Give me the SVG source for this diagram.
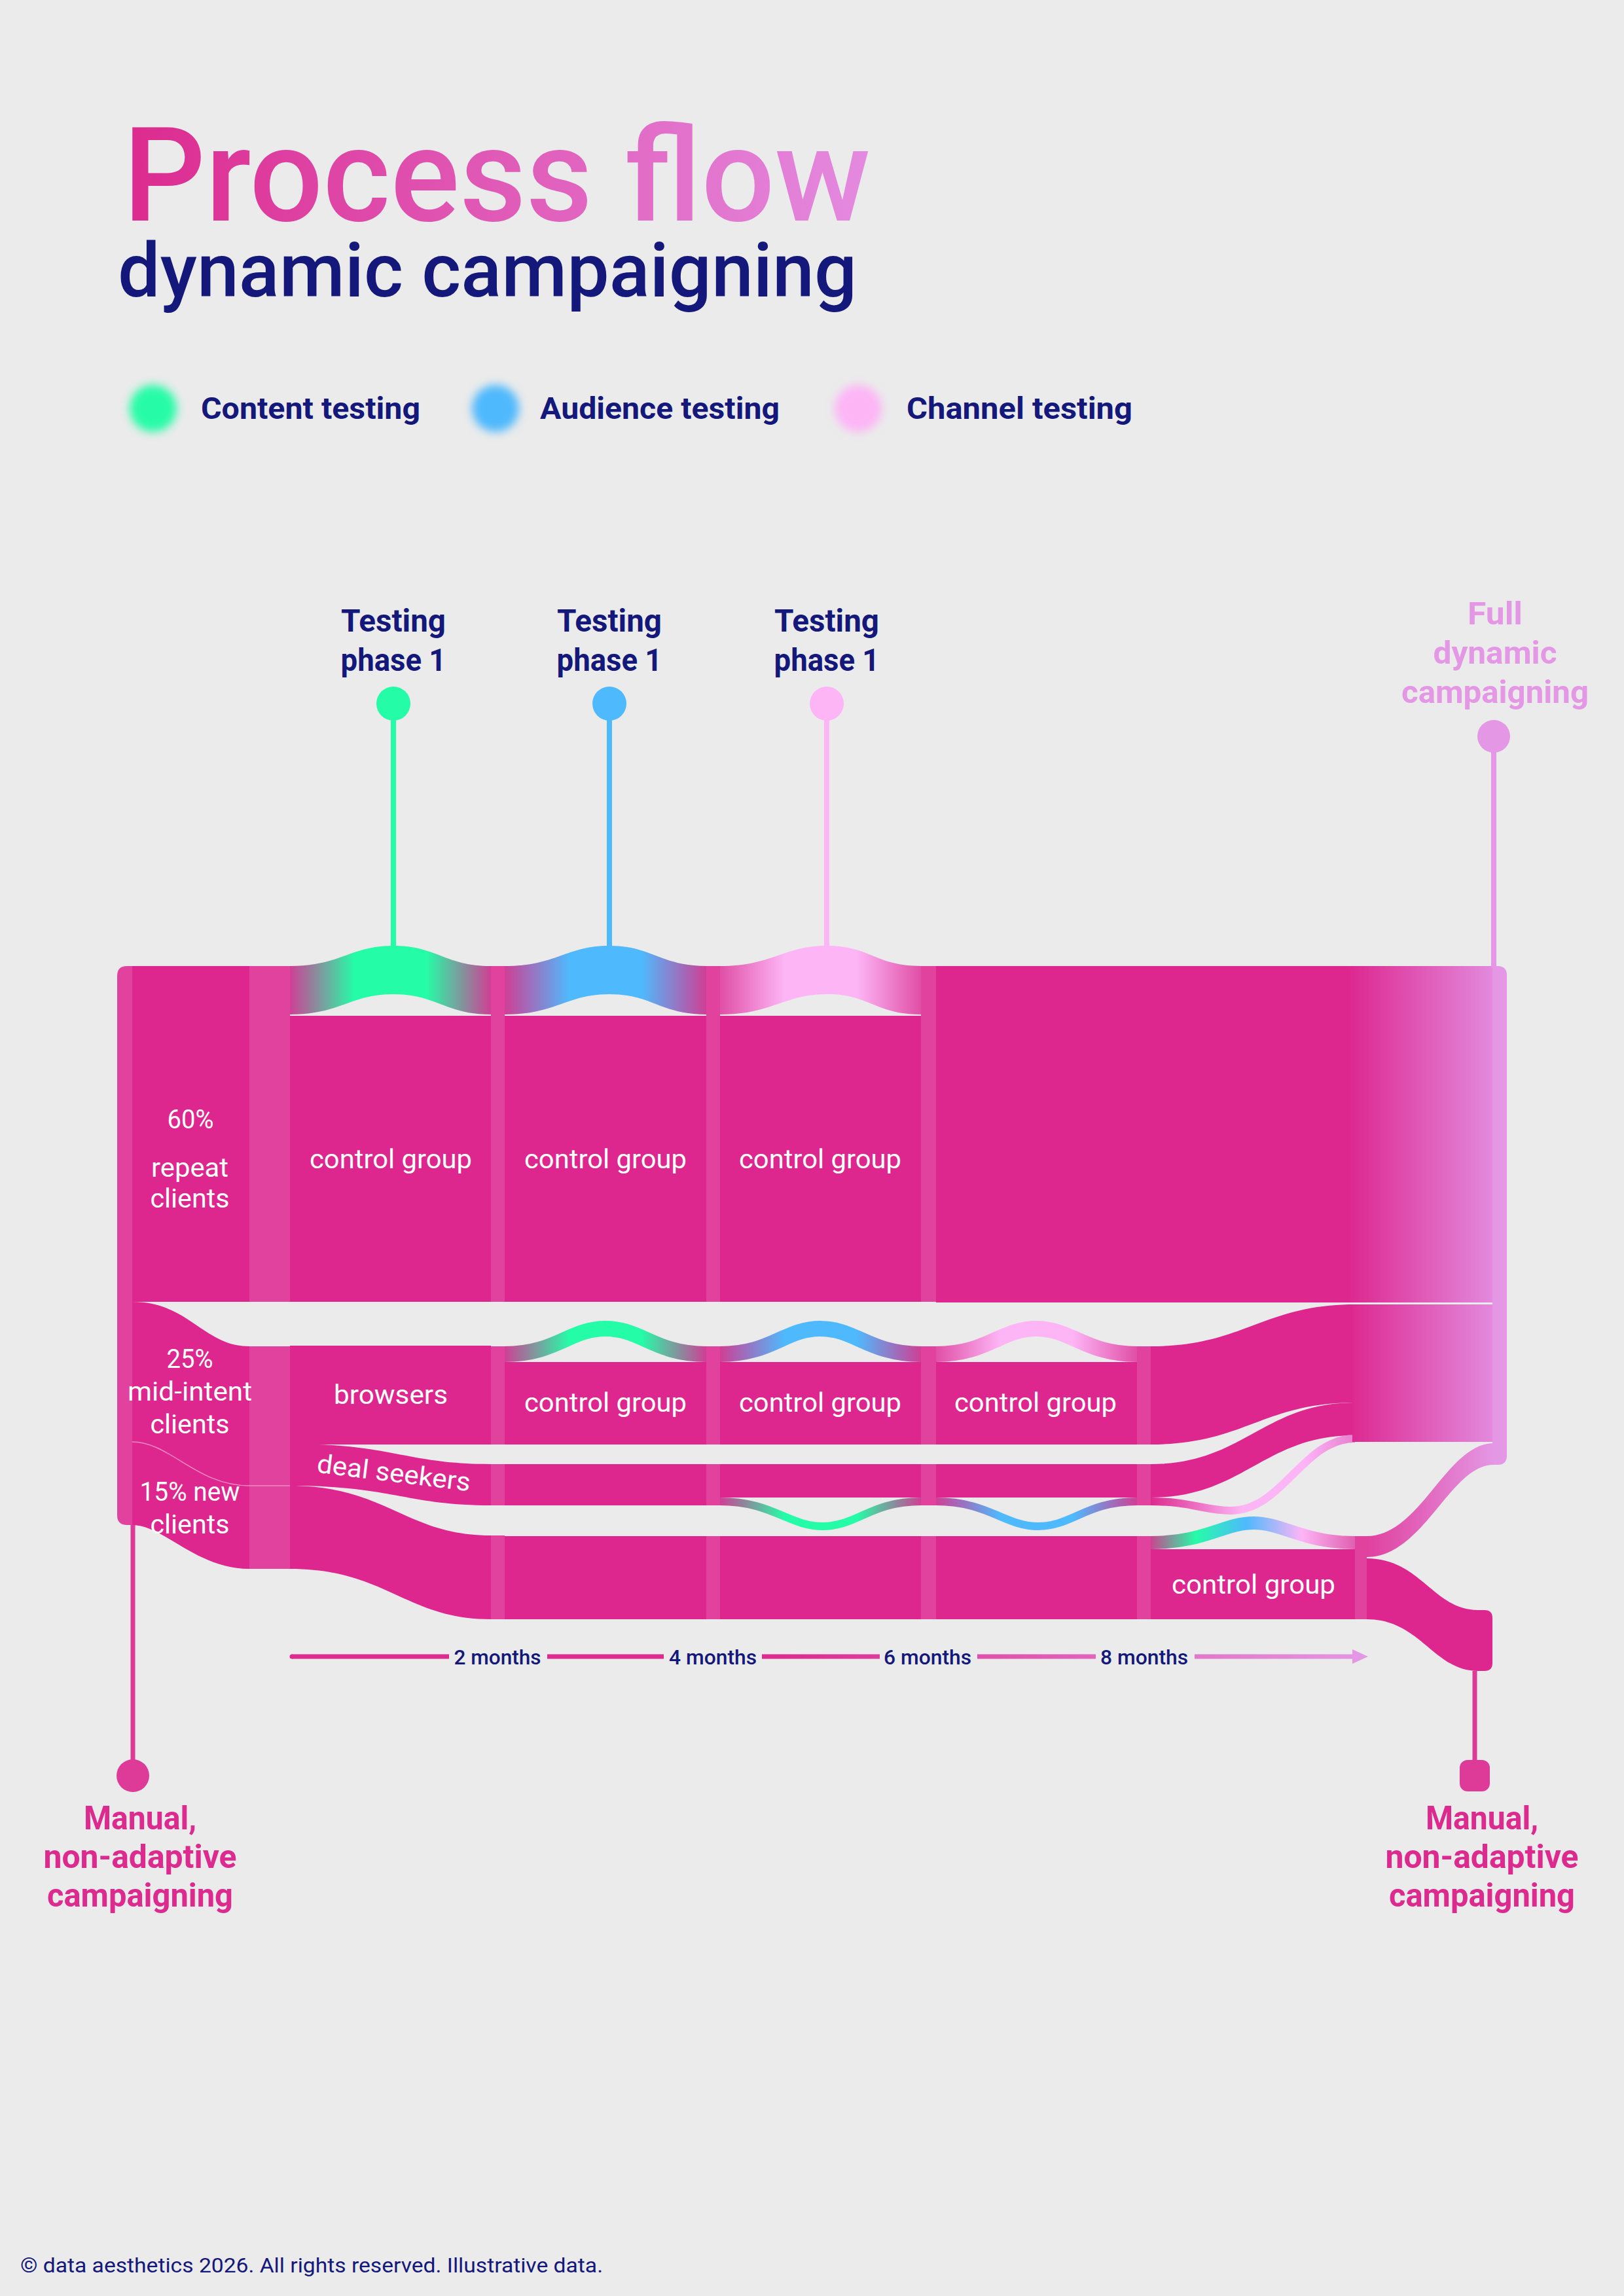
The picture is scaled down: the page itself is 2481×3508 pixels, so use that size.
<svg xmlns="http://www.w3.org/2000/svg" width="2481" height="3508" viewBox="0 0 2481 3508">
<defs>
<style>
text { font-family: Roboto, "Noto Sans", "Liberation Sans", sans-serif; }
.navy { fill:#13187a; }
.lab { font-size:48px; font-weight:700; text-anchor:middle; }
.leg { font-size:46px; font-weight:700; fill:#13187a; }
.w { fill:#ffffff; font-size:40px; text-anchor:middle; }
.flow { fill:#dd278f; }
.stripe { fill:#e1429d; }
.mo { font-size:32px; font-weight:500; fill:#13187a; text-anchor:middle; }
.man { font-size:50px; font-weight:700; fill:#dc2a8e; text-anchor:middle; }
.full { font-size:48px; font-weight:700; fill:#e497e4; text-anchor:middle; }
</style>
<linearGradient id="gTitle" gradientUnits="userSpaceOnUse" x1="188" y1="0" x2="1330" y2="0">
<stop offset="0" stop-color="#dc2a8e"/><stop offset="1" stop-color="#e48ae0"/>
</linearGradient>
<linearGradient id="gGreen"><stop offset="0" stop-color="#cf3f95"/><stop offset="0.32" stop-color="#25fca7"/><stop offset="0.68" stop-color="#25fca7"/><stop offset="1" stop-color="#cf3f95"/></linearGradient>
<linearGradient id="gBlue"><stop offset="0" stop-color="#cf3f95"/><stop offset="0.32" stop-color="#4fb9fd"/><stop offset="0.68" stop-color="#4fb9fd"/><stop offset="1" stop-color="#cf3f95"/></linearGradient>
<linearGradient id="gPink"><stop offset="0" stop-color="#e04fa6"/><stop offset="0.32" stop-color="#fdb5f6"/><stop offset="0.68" stop-color="#fdb5f6"/><stop offset="1" stop-color="#e04fa6"/></linearGradient>
<linearGradient id="gRainbow"><stop offset="0" stop-color="#c8468f"/><stop offset="0.22" stop-color="#25fca7"/><stop offset="0.47" stop-color="#4fb9fd"/><stop offset="0.74" stop-color="#fdb5f6"/><stop offset="1" stop-color="#e060b0"/></linearGradient>
<linearGradient id="gPinkLine"><stop offset="0" stop-color="#dc2a8e"/><stop offset="0.45" stop-color="#fdb5f6"/><stop offset="0.75" stop-color="#fdb5f6"/><stop offset="1" stop-color="#e77fcf"/></linearGradient>
<linearGradient id="gRight" gradientUnits="userSpaceOnUse" x1="2060" y1="0" x2="2282" y2="0">
<stop offset="0" stop-color="#dd278f"/><stop offset="1" stop-color="#e38ade"/>
</linearGradient>
<linearGradient id="gDiag" gradientUnits="userSpaceOnUse" x1="2088" y1="0" x2="2282" y2="0">
<stop offset="0" stop-color="#e0409e"/><stop offset="1" stop-color="#e497e4"/>
</linearGradient>
<linearGradient id="gTime" gradientUnits="userSpaceOnUse" x1="443" y1="0" x2="2090" y2="0">
<stop offset="0" stop-color="#dc2a8e"/><stop offset="0.45" stop-color="#dc2a8e"/><stop offset="1" stop-color="#e497e4"/>
</linearGradient>
<filter id="glow" x="-60%" y="-60%" width="220%" height="220%"><feGaussianBlur stdDeviation="7"/></filter>
</defs>

<rect width="2481" height="3508" fill="#ebebeb"/>

<g id="title">
<text x="188" y="337" font-size="200" font-weight="500" fill="url(#gTitle)" textLength="1142" lengthAdjust="spacingAndGlyphs">Process flow</text>
<text x="180" y="453" font-size="115" font-weight="500" class="navy" textLength="1129" lengthAdjust="spacingAndGlyphs">dynamic campaigning</text>
</g>

<g id="legend">
<g id="legend-content"><circle cx="234" cy="624" r="36" fill="#25fca7" filter="url(#glow)"/><text x="307" y="640" class="leg" textLength="335" lengthAdjust="spacingAndGlyphs">Content testing</text></g>
<g id="legend-audience"><circle cx="757" cy="624" r="36" fill="#4fb9fd" filter="url(#glow)"/><text x="825" y="640" class="leg" textLength="366" lengthAdjust="spacingAndGlyphs">Audience testing</text></g>
<g id="legend-channel"><circle cx="1311" cy="624" r="36" fill="#fdb5f6" filter="url(#glow)"/><text x="1385" y="640" class="leg" textLength="345" lengthAdjust="spacingAndGlyphs">Channel testing</text></g>
</g>

<g id="flows">
<!-- left block -->
<path class="stripe" d="M194,1476 H202 V2330 H194 Q179,2330 179,2315 V1491 Q179,1476 194,1476 Z"/>
<rect class="flow" x="202" y="1476" width="179" height="513"/>
<path class="flow" d="M202,1989 C290,1989 310,2057 381,2057 L381,2397 C300,2397 250,2330 202,2330 Z"/>
<rect class="stripe" x="381" y="1476" width="62" height="513"/>
<rect class="stripe" x="381" y="2057" width="62" height="340"/>
<path d="M202,2203 C260,2203 300,2270 381,2270 L443,2270" fill="none" stroke="#ee8cc4" stroke-width="1.5"/>

<!-- column 1 -->
<path fill="url(#gGreen)" d="M443,1476 C520,1476 535,1445 601,1445 C667,1445 680,1476 750,1476 L750,1550 C680,1550 667,1519 601,1519 C535,1519 520,1550 443,1550 Z"/>
<rect class="flow" x="443" y="1552" width="307" height="437"/>
<rect class="flow" x="443" y="2056" width="307" height="151"/>
<path class="flow" d="M443,2206 C600,2206 620,2237 750,2237 L750,2300 C620,2300 600,2270 443,2270 Z"/>
<path class="flow" d="M443,2270 C590,2270 620,2346 750,2346 L750,2474 C620,2474 590,2397 443,2397 Z"/>
<rect class="stripe" x="750" y="1476" width="21" height="513"/>
<rect class="stripe" x="750" y="2057" width="21" height="150"/>
<rect class="stripe" x="750" y="2237" width="21" height="63"/>
<rect class="stripe" x="750" y="2346" width="21" height="128"/>

<!-- column 2 -->
<path fill="url(#gBlue)" d="M771,1476 C850,1476 865,1445 931,1445 C997,1445 1008,1476 1079,1476 L1079,1550 C1008,1550 997,1519 931,1519 C865,1519 850,1550 771,1550 Z"/>
<rect class="flow" x="771" y="1552" width="308" height="437"/>
<path fill="none" stroke="url(#gGreen)" stroke-width="24" d="M771,2069 C850,2069 870,2030 925,2030 C980,2030 1000,2069 1079,2069"/>
<rect class="flow" x="771" y="2081" width="308" height="126"/>
<rect class="flow" x="771" y="2237" width="308" height="63"/>
<rect class="flow" x="771" y="2347" width="308" height="127"/>
<rect class="stripe" x="1079" y="1476" width="21" height="513"/>
<rect class="stripe" x="1079" y="2057" width="21" height="150"/>
<rect class="stripe" x="1079" y="2237" width="21" height="63"/>
<rect class="stripe" x="1079" y="2347" width="21" height="127"/>

<!-- column 3 -->
<path fill="url(#gPink)" d="M1100,1476 C1180,1476 1197,1445 1263,1445 C1329,1445 1337,1476 1407,1476 L1407,1550 C1337,1550 1329,1519 1263,1519 C1197,1519 1180,1550 1100,1550 Z"/>
<rect class="flow" x="1100" y="1552" width="307" height="437"/>
<path fill="none" stroke="url(#gBlue)" stroke-width="24" d="M1100,2069 C1179,2069 1199,2030 1253,2030 C1307,2030 1328,2069 1407,2069"/>
<rect class="flow" x="1100" y="2081" width="307" height="126"/>
<rect class="flow" x="1100" y="2237" width="307" height="51"/>
<path fill="none" stroke="url(#gGreen)" stroke-width="12" d="M1100,2294 C1180,2294 1205,2332 1257,2332 C1309,2332 1330,2294 1407,2294"/>
<rect class="flow" x="1100" y="2347" width="307" height="127"/>
<rect class="stripe" x="1407" y="1476" width="23" height="513"/>
<rect class="stripe" x="1407" y="2057" width="23" height="150"/>
<rect class="stripe" x="1407" y="2237" width="23" height="63"/>
<rect class="stripe" x="1407" y="2347" width="23" height="127"/>

<!-- column 4 and right block -->
<rect fill="url(#gRight)" x="1430" y="1476" width="852" height="514"/>
<path fill="none" stroke="url(#gPink)" stroke-width="24" d="M1430,2069 C1509,2069 1529,2030 1583,2030 C1637,2030 1658,2069 1737,2069"/>
<rect class="flow" x="1430" y="2081" width="307" height="126"/>
<rect class="flow" x="1430" y="2237" width="307" height="51"/>
<path fill="none" stroke="url(#gBlue)" stroke-width="12" d="M1430,2294 C1510,2294 1535,2332 1586,2332 C1637,2332 1660,2294 1737,2294"/>
<rect class="flow" x="1430" y="2347" width="307" height="127"/>
<rect class="stripe" x="1737" y="2057" width="21" height="150"/>
<rect class="stripe" x="1737" y="2237" width="21" height="63"/>
<rect class="stripe" x="1737" y="2347" width="21" height="127"/>

<!-- column 5 -->
<path class="flow" d="M1758,2057 C1900,2057 1930,1993 2070,1993 L2070,2143 C1930,2143 1900,2207 1758,2207 Z"/>
<path class="flow" d="M1758,2237 C1900,2237 1930,2143 2070,2143 L2070,2193 C1930,2193 1900,2288 1758,2288 Z"/>
<path fill="none" stroke="url(#gPinkLine)" stroke-width="12" d="M1758,2294 C1820,2294 1840,2308 1880,2308 C1960,2308 1990,2198 2070,2198"/>
<path fill="none" stroke="url(#gRainbow)" stroke-width="20" d="M1758,2357 C1840,2357 1870,2327 1915,2327 C1960,2327 1990,2357 2070,2357"/>
<rect class="flow" x="1758" y="2367" width="312" height="107"/>
<rect fill="url(#gRight)" x="2066" y="1993" width="216" height="210"/>
<rect class="stripe" x="2070" y="2347" width="18" height="127"/>
<path fill="#e497e4" d="M2280,1476 H2288 Q2302,1476 2302,1490 V2224 Q2302,2238 2288,2238 H2280 Z"/>
<path fill="url(#gDiag)" d="M2088,2347 C2170,2347 2210,2205 2282,2205 L2282,2238 C2215,2238 2175,2379 2088,2379 Z"/>
<path class="flow" d="M2088,2381 C2170,2381 2190,2460 2258,2460 H2268 Q2280,2460 2280,2472 V2541 Q2280,2553 2268,2553 H2258 C2190,2553 2170,2474 2088,2474 Z"/>
</g>

<g id="connectors">
<line x1="601" y1="1075" x2="601" y2="1447" stroke="#25fca7" stroke-width="8"/>
<line x1="931" y1="1075" x2="931" y2="1447" stroke="#4fb9fd" stroke-width="8"/>
<line x1="1263" y1="1075" x2="1263" y2="1447" stroke="#fdb5f6" stroke-width="8"/>
<line x1="2282" y1="1125" x2="2282" y2="1478" stroke="#e497e4" stroke-width="8"/>
<line x1="203" y1="2330" x2="203" y2="2692" stroke="#de3a97" stroke-width="7"/>
<line x1="2253" y1="2553" x2="2253" y2="2692" stroke="#de3a97" stroke-width="7"/>
</g>

<g id="phase-content">
<text x="601" y="965" class="lab navy" textLength="160" lengthAdjust="spacingAndGlyphs">Testing</text>
<text x="601" y="1025" class="lab navy" textLength="161" lengthAdjust="spacingAndGlyphs">phase 1</text>
<circle cx="601" cy="1075" r="26" fill="#25fca7"/>
</g>
<g id="phase-audience">
<text x="931" y="965" class="lab navy" textLength="160" lengthAdjust="spacingAndGlyphs">Testing</text>
<text x="931" y="1025" class="lab navy" textLength="161" lengthAdjust="spacingAndGlyphs">phase 1</text>
<circle cx="931" cy="1075" r="26" fill="#4fb9fd"/>
</g>
<g id="phase-channel">
<text x="1263" y="965" class="lab navy" textLength="160" lengthAdjust="spacingAndGlyphs">Testing</text>
<text x="1263" y="1025" class="lab navy" textLength="161" lengthAdjust="spacingAndGlyphs">phase 1</text>
<circle cx="1263" cy="1075" r="26" fill="#fdb5f6"/>
</g>
<g id="full-dynamic">
<text x="2284" y="954" class="full" textLength="84" lengthAdjust="spacingAndGlyphs">Full</text>
<text x="2284" y="1014" class="full" textLength="189" lengthAdjust="spacingAndGlyphs">dynamic</text>
<text x="2284" y="1074" class="full" textLength="286" lengthAdjust="spacingAndGlyphs">campaigning</text>
<circle cx="2282" cy="1125" r="25" fill="#e497e4"/>
</g>
<g id="manual-start">
<circle cx="203" cy="2713" r="25" fill="#de3a97"/>
<text x="214" y="2795" class="man" textLength="172" lengthAdjust="spacingAndGlyphs">Manual,</text>
<text x="214" y="2854" class="man" textLength="295" lengthAdjust="spacingAndGlyphs">non-adaptive</text>
<text x="214" y="2913" class="man" textLength="284" lengthAdjust="spacingAndGlyphs">campaigning</text>
</g>
<g id="manual-end">
<rect x="2230" y="2689" width="46" height="48" rx="12" fill="#de3a97"/>
<text x="2264" y="2795" class="man" textLength="172" lengthAdjust="spacingAndGlyphs">Manual,</text>
<text x="2264" y="2854" class="man" textLength="295" lengthAdjust="spacingAndGlyphs">non-adaptive</text>
<text x="2264" y="2913" class="man" textLength="284" lengthAdjust="spacingAndGlyphs">campaigning</text>
</g>

<g id="labels">
<text x="291" y="1724" class="w" textLength="71" lengthAdjust="spacingAndGlyphs">60%</text>
<text x="290" y="1798" class="w" textLength="118" lengthAdjust="spacingAndGlyphs">repeat</text>
<text x="290" y="1845" class="w" textLength="121" lengthAdjust="spacingAndGlyphs">clients</text>
<text x="597" y="1785" class="w" textLength="248" lengthAdjust="spacingAndGlyphs">control group</text>
<text x="925" y="1785" class="w" textLength="248" lengthAdjust="spacingAndGlyphs">control group</text>
<text x="1253" y="1785" class="w" textLength="248" lengthAdjust="spacingAndGlyphs">control group</text>
<text x="290" y="2090" class="w" textLength="71" lengthAdjust="spacingAndGlyphs">25%</text>
<text x="290" y="2140" class="w" textLength="190" lengthAdjust="spacingAndGlyphs">mid-intent</text>
<text x="290" y="2190" class="w" textLength="121" lengthAdjust="spacingAndGlyphs">clients</text>
<text x="597" y="2145" class="w" textLength="174" lengthAdjust="spacingAndGlyphs">browsers</text>
<text x="600" y="2264" class="w" transform="rotate(7 600 2264)" textLength="236" lengthAdjust="spacingAndGlyphs">deal seekers</text>
<text x="290" y="2293" class="w" textLength="153" lengthAdjust="spacingAndGlyphs">15% new</text>
<text x="290" y="2343" class="w" textLength="121" lengthAdjust="spacingAndGlyphs">clients</text>
<text x="925" y="2157" class="w" textLength="248" lengthAdjust="spacingAndGlyphs">control group</text>
<text x="1253" y="2157" class="w" textLength="248" lengthAdjust="spacingAndGlyphs">control group</text>
<text x="1582" y="2157" class="w" textLength="248" lengthAdjust="spacingAndGlyphs">control group</text>
<text x="1915" y="2435" class="w" textLength="250" lengthAdjust="spacingAndGlyphs">control group</text>
</g>

<g id="timeline">
<path fill="none" stroke="url(#gTime)" stroke-width="7" d="M446,2531 H686 M836,2531 H1014 M1164,2531 H1344 M1493,2531 H1674 M1825,2531 H2068"/>
<circle cx="446" cy="2531" r="3.5" fill="#dc2a8e"/>
<polygon points="2066,2520 2090,2531 2066,2542" fill="#e497e4"/>
<text x="760" y="2543" class="mo" textLength="133" lengthAdjust="spacingAndGlyphs">2 months</text>
<text x="1089" y="2543" class="mo" textLength="134" lengthAdjust="spacingAndGlyphs">4 months</text>
<text x="1417" y="2543" class="mo" textLength="134" lengthAdjust="spacingAndGlyphs">6 months</text>
<text x="1748" y="2543" class="mo" textLength="134" lengthAdjust="spacingAndGlyphs">8 months</text>
</g>

<text x="31" y="3472" font-size="31" class="navy" textLength="890" lengthAdjust="spacingAndGlyphs">© data aesthetics 2026. All rights reserved. Illustrative data.</text>
</svg>
